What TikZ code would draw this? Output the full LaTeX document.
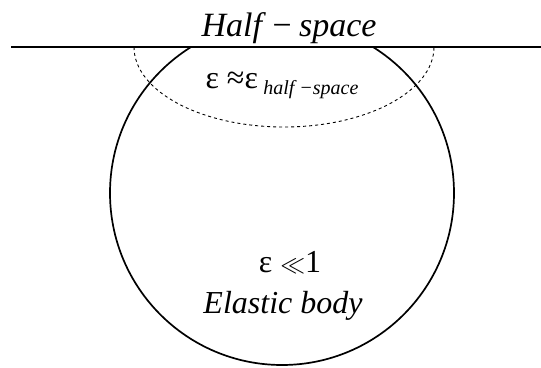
\documentclass[tikz,border=0pt]{standalone}
\usepackage{fontspec}
\setmainfont{Liberation Serif}
\tikzset{lbl/.style={inner sep=0pt,anchor=base,font=\fontsize{32}{38}\selectfont}}
\begin{document}
\begin{tikzpicture}[x=1pt,y=-1pt]
\useasboundingbox (0,0) rectangle (541,367);
\draw[line width=1.8pt] (11,47)--(541,47);
\begin{scope}
\clip (0,47) rectangle (541,367);
\draw[line width=1.7pt] (282,193) circle (172pt);
\end{scope}
\draw[dashed,line width=.9pt,dash pattern=on 3pt off 3pt] (134,47) arc (180:0:150 and 80);
\node[lbl] (hs) at (289,36) {\fontsize{34}{40}\selectfont\itshape Half −\,space};
\node[lbl] (eh) at (282,88) {ε ≈ε\,{\fontsize{20}{22}\selectfont\raisebox{-6pt}{\itshape half −space}}};
\node[lbl] (ee) at (290,272) {ε {\fontsize{38}{40}\selectfont$\ll$}1};
\node[lbl] (eb) at (283,313) {\itshape Elastic body};
\end{tikzpicture}
\end{document}
